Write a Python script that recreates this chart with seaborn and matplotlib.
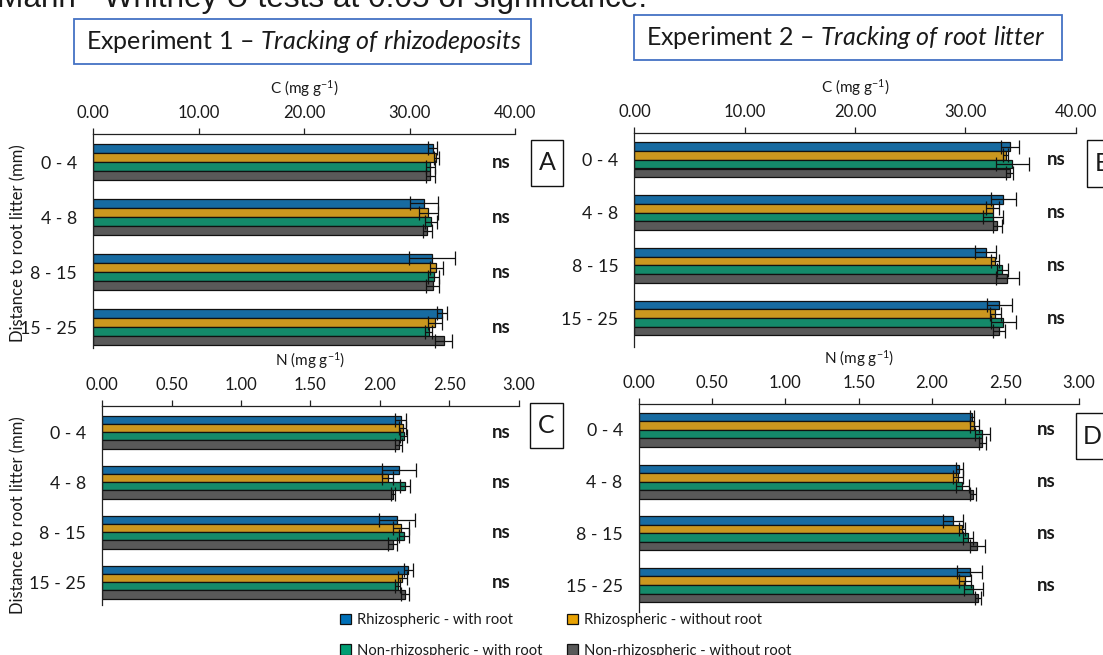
import numpy as np
import pandas as pd
import matplotlib
matplotlib.use("Agg")
import matplotlib.pyplot as plt
import matplotlib.transforms as mtrans
from matplotlib.patches import Rectangle, Patch
from matplotlib.container import BarContainer
from matplotlib.ticker import StrMethodFormatter
import seaborn as sns

# ---------------- data ----------------
distances = ["0 - 4", "4 - 8", "8 - 15", "15 - 25"]
treatments = ["Rhizospheric - with root", "Rhizospheric - without root",
              "Non-rhizospheric - with root", "Non-rhizospheric - without root"]

# Panel A: Experiment 1, C (mg g-1)
A_rw = [32.18, 31.36, 32.11, 33.09]; A_rw_err = [0.47, 1.36, 2.17, 0.46]
A_ro = [32.55, 31.77, 32.55, 32.41]; A_ro_err = [0.25, 0.90, 0.64, 0.64]
A_nw = [31.97, 32.04, 32.28, 31.80]; A_nw_err = [0.41, 0.54, 0.50, 0.30]
A_no = [31.97, 31.70, 32.18, 33.23]; A_no_err = [0.41, 0.42, 0.64, 0.80]

# Panel B: Experiment 2, C (mg g-1)
B_rw = [34.07, 33.42, 31.86, 33.09]; B_rw_err = [0.81, 1.14, 0.96, 1.15]
B_ro = [33.65, 32.48, 32.70, 32.70]; B_ro_err = [0.20, 0.57, 0.37, 0.49]
B_nw = [34.27, 32.54, 33.35, 33.42]; B_nw_err = [1.53, 0.90, 0.47, 1.14]
B_no = [34.00, 32.90, 33.81, 33.06]; B_no_err = [0.30, 0.40, 1.06, 0.57]

# Panel C: Experiment 1, N (mg g-1)
C_rw = [2.151, 2.140, 2.125, 2.205]; C_rw_err = [0.039, 0.123, 0.129, 0.031]
C_ro = [2.166, 2.058, 2.151, 2.161]; C_ro_err = [0.026, 0.039, 0.058, 0.032]
C_nw = [2.171, 2.182, 2.176, 2.128]; C_nw_err = [0.023, 0.039, 0.035, 0.015]
C_no = [2.135, 2.097, 2.092, 2.184]; C_no_err = [0.027, 0.015, 0.030, 0.030]

# Panel D: Experiment 2, N (mg g-1)
D_rw = [2.273, 2.187, 2.143, 2.256]; D_rw_err = [0.011, 0.024, 0.067, 0.086]
D_ro = [2.290, 2.180, 2.204, 2.224]; D_ro_err = [0.030, 0.034, 0.020, 0.043]
D_nw = [2.344, 2.207, 2.246, 2.283]; D_nw_err = [0.049, 0.044, 0.032, 0.065]
D_no = [2.344, 2.280, 2.310, 2.314]; D_no_err = [0.026, 0.021, 0.054, 0.020]

sig_labels = ["ns", "ns", "ns", "ns"]
c_ticks = [0, 10, 20, 30, 40]
n_ticks = [0, 0.5, 1.0, 1.5, 2.0, 2.5, 3.0]

colors = ["#0070B8", "#E8A202", "#009E73", "#595959"]

# ---------------- style ----------------
sns.set_theme(style="white")
plt.rcParams["font.family"] = ["Lato", "DejaVu Sans"]
plt.rcParams["mathtext.fontset"] = "custom"
plt.rcParams["mathtext.rm"] = "Lato"
plt.rcParams["mathtext.it"] = "Lato:italic"
plt.rcParams["mathtext.bf"] = "Lato:bold"
TXT = "#1a1a1a"

W, H = 1103, 655
fig = plt.figure(figsize=(W / 100, H / 100), dpi=100)
fig.patch.set_facecolor("white")


def px_axes(l, r, t, b):
    return fig.add_axes([l / W, 1 - b / H, (r - l) / W, (b - t) / H])


def long_df(vals):
    rows = []
    for t, v in zip(treatments, vals):
        for d, x in zip(distances, v):
            rows.append({"dist": d, "treatment": t, "value": x})
    return pd.DataFrame(rows)


def panel(ax, vals, errs, xmax, ticks, xlabel, ylim, ns_x):
    df = long_df(vals)
    sns.barplot(data=df, x="value", y="dist", hue="treatment",
                order=distances, hue_order=treatments, palette=colors,
                orient="h", width=0.66, errorbar=None, legend=False,
                edgecolor="#111111", linewidth=0.9, ax=ax)
    bar_conts = [c for c in ax.containers if isinstance(c, BarContainer)]
    for i, cont in enumerate(bar_conts):
        for j, p in enumerate(cont.patches):
            yc = p.get_y() + p.get_height() / 2
            ax.errorbar(p.get_width(), yc, xerr=errs[i][j], fmt="none",
                        ecolor="#111111", elinewidth=0.9, capsize=5.0,
                        capthick=0.9, zorder=5)
    ax.set_xlim(0, xmax)
    ax.set_ylim(*ylim)
    ax.set_xticks(ticks)
    ax.xaxis.set_major_formatter(StrMethodFormatter("{x:.2f}"))
    ax.xaxis.tick_top()
    ax.xaxis.set_label_position("top")
    ax.set_xlabel(xlabel, fontsize=11, color=TXT, labelpad=8.5)
    ax.set_ylabel("")
    ax.tick_params(axis="x", which="major", direction="out", length=4,
                   width=0.9, color="#222222", pad=5, labelsize=12,
                   labelcolor=TXT, top=True, bottom=False)
    ax.tick_params(axis="y", length=0, pad=11.5, labelsize=12.8, labelcolor=TXT)
    for s in ["right", "bottom"]:
        ax.spines[s].set_visible(False)
    for s in ["top", "left"]:
        ax.spines[s].set_visible(True)
        ax.spines[s].set_color("#222222")
        ax.spines[s].set_linewidth(0.9)
    ax.grid(False)
    trans = mtrans.blended_transform_factory(ax.transAxes, ax.transData)
    for k, lab in enumerate(sig_labels):
        ax.text(ns_x, k, lab, transform=trans, ha="center", va="center",
                fontsize=13.5, fontweight="bold", color=TXT)


c_label = r"C (mg g$^{-1}$)"
n_label = r"N (mg g$^{-1}$)"

axA = px_axes(93.2, 515.0, 134.0, 348.0)
panel(axA, [A_rw, A_ro, A_nw, A_no], [A_rw_err, A_ro_err, A_nw_err, A_no_err],
      40, c_ticks, c_label, (3.38, -0.51), 0.967)

axB = px_axes(634.4, 1075.7, 132.9, 346.5)
panel(axB, [B_rw, B_ro, B_nw, B_no], [B_rw_err, B_ro_err, B_nw_err, B_no_err],
      40, c_ticks, c_label, (3.54, -0.51), 0.955)

axC = px_axes(102.1, 518.6, 405.7, 605.0)
panel(axC, [C_rw, C_ro, C_nw, C_no], [C_rw_err, C_ro_err, C_nw_err, C_no_err],
      3, n_ticks, n_label, (3.46, -0.53), 0.958)

axD = px_axes(638.7, 1078.6, 403.6, 611.9)
panel(axD, [D_rw, D_ro, D_nw, D_no], [D_rw_err, D_ro_err, D_nw_err, D_no_err],
      3, n_ticks, n_label, (3.52, -0.51), 0.927)

# y axis labels (left panels)
fig.text(18.5 / W, 1 - 243 / H, "Distance to root litter (mm)", rotation=90,
         ha="center", va="center", fontsize=12, color=TXT)
fig.text(18.5 / W, 1 - 515 / H, "Distance to root litter (mm)", rotation=90,
         ha="center", va="center", fontsize=12, color=TXT)


def fig_box(l, r, t, b, ec, lw):
    fig.add_artist(Rectangle((l / W, 1 - b / H), (r - l) / W, (b - t) / H,
                             transform=fig.transFigure, fill=False,
                             edgecolor=ec, linewidth=lw, clip_on=False))


# title boxes
fig_box(74.3, 531.4, 18.6, 64.3, "#4472C4", 1.3)
fig.text(85.7 / W, 1 - 41.5 / H,
         r"Experiment 1 – $\mathit{Tracking\ of\ rhizodeposits}$",
         ha="left", va="center", fontsize=18, color=TXT)
fig_box(634.4, 1062.4, 15.0, 60.3, "#4472C4", 1.3)
fig.text(646 / W, 1 - 37.6 / H,
         r"Experiment 2 – $\mathit{Tracking\ of\ root\ litter}$",
         ha="left", va="center", fontsize=18, color=TXT)

# panel letter boxes
for lab, (l, r, t, b) in {"A": (531, 563, 140, 186),
                          "B": (1086.5, 1120, 140, 187),
                          "C": (530, 563, 403, 448),
                          "D": (1075.7, 1109, 413, 459)}.items():
    fig_box(l, r, t, b, "#111111", 1.0)
    fig.text((l + r) / 2 / W, 1 - (t + b) / 2 / H, lab, ha="center",
             va="center", fontsize=18, color=TXT)

# clipped heading at top
fig.text(647 / W, 1 - 7.5 / H, "Mann - Whitney U tests at 0.05 of significance.",
         ha="right", va="baseline", fontsize=22.7, family="Liberation Sans",
         color=TXT)

# legend
handles = [Patch(facecolor=colors[k], edgecolor="#111111", linewidth=0.9,
                 label=treatments[k]) for k in [0, 2, 1, 3]]
fig.legend(handles=handles, ncol=2, loc="upper left",
           bbox_to_anchor=(333 / W, 1 - 606 / H), frameon=False,
           fontsize=10.6, handlelength=0.7, handleheight=0.7,
           handletextpad=0.4, columnspacing=1.72, labelspacing=1.1,
           borderpad=0, labelcolor=TXT)

fig.savefig("out.png", dpi=100, facecolor="white")
